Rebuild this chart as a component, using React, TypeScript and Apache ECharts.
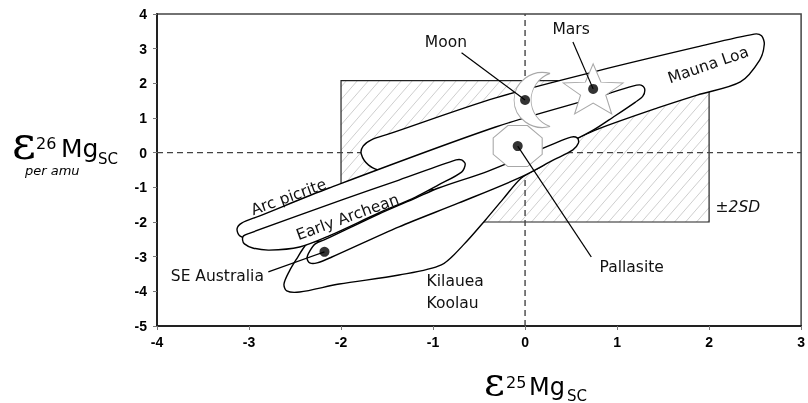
import React, { useEffect, useRef } from "react";
import * as echarts from "echarts";

type Pt = [number, number];

// axis ticks
const xMin = -4, xMax = 3, yMin = -5, yMax = 4;

// ±2SD reference box: x0, y0, x1, y1
const sdBox = [-2, -2, 2, 2.08];

// envelopes (closed outlines, in data units)
const maunaLoa: Pt[] = [
  [-1.78, -0.04], [-1.76, 0.19], [-1.67, 0.37], [-1.48, 0.54], [-0.32, 1.58], [0.79, 2.36],
  [1.87, 3.05], [2.49, 3.42], [2.57, 3.37], [2.6, 3.13], [2.55, 2.67], [2.34, 2.04],
  [1.87, 1.66], [1.44, 1.29], [0.79, 0.68], [0.36, 0.19], [-0.07, -0.1], [-0.72, -0.3],
  [-1.37, -0.5], [-1.55, -0.53], [-1.7, -0.36],
];
const kilaueaKoolau: Pt[] = [
  [-2.59, -3.99], [-2.62, -3.79], [-2.56, -3.41], [-2.47, -3.01], [-2.4, -2.72], [-2.34, -2.58],
  [-2.02, -2.52], [-1.37, -2.0], [-0.4, -0.93], [0.14, -0.27], [0.41, 0.08], [0.2, -0.36],
  [-0.04, -0.73], [-0.24, -1.34], [-0.43, -1.94], [-0.67, -2.66], [-0.91, -3.24], [-1.37, -3.53],
  [-2.02, -3.79], [-2.45, -4.02],
];
const arcPicrite: Pt[] = [
  [-3.13, -2.2], [-3.08, -2.03], [-2.89, -1.83], [-2.13, -1.02], [-0.32, 0.74], [0.79, 1.61],
  [1.17, 1.92], [1.26, 1.95], [1.3, 1.84], [1.28, 1.63], [1.2, 1.46], [0.96, 1.03], [0.74, 0.65],
  [0.36, 0.14], [-0.07, -0.36], [-0.45, -0.82], [-0.83, -1.08], [-1.05, -1.08], [-1.37, -1.36],
  [-1.8, -1.71], [-2.13, -2.06], [-2.56, -2.46], [-2.94, -2.52], [-3.1, -2.4],
];
const seAustralia: Pt[] = [
  [-2.37, -3.04], [-2.34, -2.84], [-2.28, -2.63], [-2.16, -2.49], [-1.59, -1.77], [-1.19, -1.31],
  [-0.94, -1.02], [-0.4, -0.53], [0.36, 0.31], [0.5, 0.45], [0.57, 0.42], [0.58, 0.28],
  [0.52, 0.08], [0.31, -0.21], [-0.04, -0.7], [-0.72, -1.45], [-1.37, -2.14], [-2.1, -3.01],
  [-2.26, -3.18], [-2.34, -3.18],
];
const earlyArchean: Pt[] = [
  [-3.07, -2.52], [-3.06, -2.4], [-2.99, -2.32], [-1.99, -1.36], [-1.37, -0.79], [-0.75, -0.21],
  [-0.69, -0.21], [-0.65, -0.33], [-0.69, -0.56], [-0.94, -0.93], [-1.19, -1.28], [-1.59, -1.74],
  [-2.13, -2.4], [-2.45, -2.72], [-2.78, -2.81], [-2.96, -2.75], [-3.05, -2.63],
];
const envelopes: Pt[][] = [maunaLoa, kilaueaKoolau, arcPicrite, seAustralia, earlyArchean];

// samples
const sampleNames = ["Moon", "Mars", "Pallasite", "SE Australia"];
const sampleX = [0.0, 0.74, -0.08, -2.18];
const sampleY = [1.52, 1.84, 0.19, -2.86];
// leader line start points (label end)
const leaderX = [-0.69, 0.52, 0.72, -2.79];
const leaderY = [2.88, 3.19, -3.01, -3.44];

// annotation labels
const labelTexts = ["Moon", "Mars", "Mauna Loa", "Arc picrite", "Early Archean", "SE Australia", "Kilauea", "Koolau", "Pallasite", "±2SD"];
const labelX = [-0.86, 0.5, 1.99, -2.57, -1.93, -3.85, -1.07, -1.07, 0.81, 2.07];
const labelY = [3.19, 3.57, 2.53, -1.28, -1.86, -3.56, -3.7, -4.34, -3.3, -1.57];
const labelAngle = [0, 0, 19, 20, 20, 0, 0, 0, 0, 0];
const labelAnchor = ["center", "center", "center", "center", "center", "left", "left", "left", "left", "left"];

const moonPath = "path://M36,0 A28.5,28.5 0 1 0 36,55 A29.4,29.4 0 0 1 36,0 Z";
const starPath = "path://M50,0 L62.34,33.01 L97.55,34.55 L69.97,56.49 L79.39,90.45 L50,71 L20.61,90.45 L30.03,56.49 L2.45,34.55 L37.66,33.01 Z";
const octPath = "path://M30,0 L70,0 L100,30 L100,70 L70,100 L30,100 L0,70 L0,30 Z";

function txt(text: string, x: number, y: number, size: number, family: string, extra: any = {}) {
  return {
    type: "text",
    x,
    y,
    silent: true,
    style: {
      text,
      fontSize: size,
      fontFamily: family,
      fill: "#000",
      align: "left",
      textAlign: "left",
      verticalAlign: "middle",
      textVerticalAlign: "middle",
      ...extra,
    },
  };
}

export default function App() {
  const ref = useRef<HTMLDivElement>(null);
  useEffect(() => {
    if (!ref.current) return;
    const chart = echarts.init(ref.current, null, { renderer: "svg" });
    const axisLabel = { fontFamily: "Liberation Sans", fontWeight: "bold", fontSize: 14, color: "#000" };
    const option: any = {
      animation: false,
      grid: { left: 157, top: 14, right: 4, bottom: 77, show: true, borderColor: "#444", borderWidth: 1.5 },
      xAxis: {
        type: "value", min: xMin, max: xMax, interval: 1,
        splitLine: { show: false },
        axisLine: { onZero: false, lineStyle: { color: "#222", width: 2 } },
        axisTick: { length: 4, lineStyle: { color: "#777" } },
        axisLabel: { ...axisLabel, margin: 9 },
      },
      yAxis: {
        type: "value", min: yMin, max: yMax, interval: 1,
        splitLine: { show: false },
        axisLine: { onZero: false, lineStyle: { color: "#222", width: 2 } },
        axisTick: { length: 4, lineStyle: { color: "#777" } },
        axisLabel: { ...axisLabel, margin: 10 },
      },
      graphic: [
        txt("ε", 12, 143, 46, "DejaVu Serif"),
        txt("26", 36, 143, 16, "DejaVu Sans"),
        txt("Mg", 61, 148.5, 25, "DejaVu Sans"),
        txt("SC", 98, 158.5, 15, "DejaVu Sans"),
        txt("per amu", 25, 170, 13, "DejaVu Sans", { fontStyle: "italic" }),
        txt("ε", 484, 381, 40, "DejaVu Serif"),
        txt("25", 506, 382, 16, "DejaVu Sans"),
        txt("Mg", 529, 387, 24, "DejaVu Sans"),
        txt("SC", 567, 395.5, 15, "DejaVu Sans"),
      ],
      series: [
        {
          type: "custom", z: 2, silent: true,
          data: [sdBox],
          renderItem: (params: any, api: any) => {
            const p0 = api.coord([sdBox[0], sdBox[3]]);
            const p1 = api.coord([sdBox[2], sdBox[1]]);
            const L = p0[0], T = p0[1], R = p1[0], B = p1[1];
            const s = 1.15, sp = 11;
            const children: any[] = [];
            for (let K = s * L + T + s * sp * 0.5; K < s * R + B; K += s * sp) {
              let xa = (K - B) / s, ya = B;
              if (xa < L) { xa = L; ya = K - s * L; }
              let xb = (K - T) / s, yb = T;
              if (xb > R) { xb = R; yb = K - s * R; }
              children.push({ type: "line", shape: { x1: xa, y1: ya, x2: xb, y2: yb }, style: { stroke: "#c2c2c2", lineWidth: 0.8 } });
            }
            children.push({ type: "rect", shape: { x: L, y: T, width: R - L, height: B - T }, style: { fill: "none", stroke: "#222", lineWidth: 1.2 } });
            return { type: "group", children };
          },
        },
        {
          type: "line", z: 3, silent: true, symbol: "none",
          data: [[0, yMin], [0, yMax]],
          lineStyle: { color: "#444", width: 1.4, type: [6, 4] },
        },
        {
          type: "line", z: 3, silent: true, symbol: "none",
          data: [[xMin, 0], [xMax, 0]],
          lineStyle: { color: "#444", width: 1.4, type: [6, 4] },
        },
        {
          type: "custom", z: 4, silent: true,
          data: envelopes.map((e) => e[0]),
          renderItem: (params: any, api: any) => {
            const pts = envelopes[params.dataIndex].map((p) => api.coord(p));
            return {
              type: "polygon",
              shape: { points: pts, smooth: 0.3 },
              style: { fill: "#fff", stroke: "#000", lineWidth: 1.4 },
            };
          },
        },
        {
          type: "scatter", z: 5, silent: true,
          data: [
            { value: [sampleX[0], sampleY[0]], symbol: moonPath, symbolSize: [36, 55], symbolOffset: [7, 0] },
            { value: [sampleX[1], sampleY[1]], symbol: starPath, symbolSize: [60, 50], symbolOffset: [0, 0] },
            { value: [sampleX[2], sampleY[2]], symbol: octPath, symbolSize: [49, 41], symbolOffset: [0, 0] },
          ],
          itemStyle: { color: "#fff", borderColor: "#a8a8a8", borderWidth: 1, opacity: 1 },
        },
        ...sampleNames.map((n, i) => ({
          type: "line", z: 6, silent: true, symbol: "none",
          data: [[leaderX[i], leaderY[i]], [sampleX[i], sampleY[i]]],
          lineStyle: { color: "#000", width: 1.2 },
        })),
        {
          type: "scatter", z: 7, silent: true,
          data: sampleNames.map((n, i) => [sampleX[i], sampleY[i]]),
          symbol: "circle", symbolSize: 10,
          itemStyle: { color: "#000" },
        },
        {
          type: "custom", z: 8, silent: true,
          data: labelTexts.map((t, i) => [labelX[i], labelY[i]]),
          renderItem: (params: any, api: any) => {
            const i = params.dataIndex;
            const p = api.coord([labelX[i], labelY[i]]);
            return {
              type: "text", x: p[0], y: p[1], rotation: (labelAngle[i] * Math.PI) / 180,
              style: {
                text: labelTexts[i], fill: "#111", fontSize: 15.5, fontFamily: "DejaVu Sans",
                fontStyle: i === 9 ? "italic" : "normal",
                align: labelAnchor[i], verticalAlign: "middle",
              },
            };
          },
        },
      ],
    };
    chart.setOption(option);
    return () => chart.dispose();
  }, []);
  return <div ref={ref} style={{ position: "fixed", left: 0, top: 0, width: 808, height: 403 }} />;
}
